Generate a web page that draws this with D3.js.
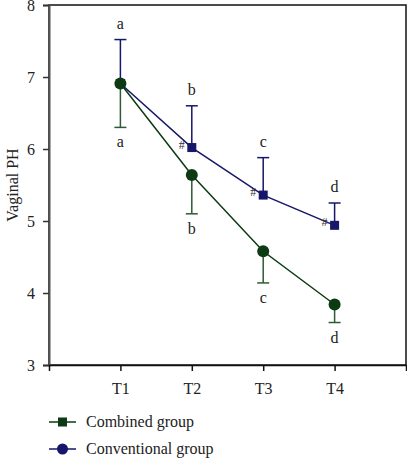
<!DOCTYPE html>
<html>
<head>
<meta charset="utf-8">
<script src="https://cdn.jsdelivr.net/npm/d3@7"></script>
<style>
  body { margin: 0; background: #fff; }
  svg { display: block; font-family: "Liberation Serif", "DejaVu Serif", serif; }
</style>
</head>
<body>
<div id="graph"></div>
<script>
const times = ["T1", "T2", "T3", "T4"]
const yTicks = [3, 4, 5, 6, 7, 8]

// Squares (navy), error bars upward
const squareMean = [6.91, 6.02, 5.36, 4.94]
const squareErr = [0.61, 0.58, 0.52, 0.31]
const squareLetters = ["a", "b", "c", "d"]
const squareMarks = ["", "#", "#", "#"]

// Circles (green), error bars downward
const circleMean = [6.91, 5.64, 4.58, 3.84]
const circleErr = [0.61, 0.54, 0.44, 0.25]
const circleLetters = ["a", "b", "c", "d"]

const legendLabels = ["Combined group", "Conventional group"]

const width = 407
const height = 458
const navy = "#16166a"
const green = "#0c3a12"
const greenBar = "#2f5a34"

const svg = d3.select("#graph").append("svg")
    .attr("width", width)
    .attr("height", height)

const x = d3.scaleLinear().domain([0, 5]).range([49, 406])
const y = d3.scaleLinear().domain([3, 8]).range([365, 5])

// Frame
svg.append("rect")
    .attr("x", x(0)).attr("y", y(8))
    .attr("width", x(5) - x(0)).attr("height", y(3) - y(8))
    .attr("fill", "none").attr("stroke", "#111").attr("stroke-width", 1.5)

// Y axis
const yAxis = svg.append("g")
    .attr("transform", `translate(${x(0)},0)`)
    .call(d3.axisLeft(y).tickValues(yTicks).tickSize(6).tickPadding(8).tickFormat(d3.format("d")))
yAxis.select(".domain").attr("stroke", "#555").attr("stroke-width", 2)
yAxis.selectAll(".tick line").attr("stroke", "#333").attr("stroke-width", 1.5)
yAxis.selectAll("text").attr("font-size", 16).attr("font-family", "Liberation Serif").attr("fill", "#222")

// X axis
const xAxis = svg.append("g")
    .attr("transform", `translate(0,${y(3)})`)
    .call(d3.axisBottom(x).tickValues([1, 2, 3, 4]).tickSize(6).tickPadding(12)
        .tickFormat(d => times[d - 1]))
xAxis.select(".domain").attr("stroke", "#111").attr("stroke-width", 1.5)
xAxis.selectAll(".tick line").attr("stroke", "#111").attr("stroke-width", 1.5)
xAxis.selectAll("text").attr("font-size", 16).attr("font-family", "Liberation Serif").attr("fill", "#222")

// Y label
svg.append("text")
    .attr("transform", `translate(18,${y(5.5)}) rotate(-90)`)
    .attr("text-anchor", "middle")
    .attr("font-size", 16)
    .attr("fill", "#222")
    .text("Vaginal PH")

const idx = [0, 1, 2, 3]
const line = d3.line().x(i => x(i + 1))

// Navy series
svg.append("path")
    .attr("d", line.y(i => y(squareMean[i]))(idx))
    .attr("fill", "none").attr("stroke", navy).attr("stroke-width", 1.5)

const sq = svg.append("g")
sq.selectAll("line.bar").data(idx).join("line")
    .attr("x1", i => x(i + 1)).attr("x2", i => x(i + 1))
    .attr("y1", i => y(squareMean[i])).attr("y2", i => y(squareMean[i] + squareErr[i]))
    .attr("stroke", navy).attr("stroke-width", 1.5)
sq.selectAll("line.cap").data(idx).join("line")
    .attr("x1", i => x(i + 1) - 6).attr("x2", i => x(i + 1) + 6)
    .attr("y1", i => y(squareMean[i] + squareErr[i])).attr("y2", i => y(squareMean[i] + squareErr[i]))
    .attr("stroke", navy).attr("stroke-width", 1.5)
sq.selectAll("rect").data(idx).join("rect")
    .attr("x", i => x(i + 1) - 4.5).attr("y", i => y(squareMean[i]) - 4.5)
    .attr("width", 9).attr("height", 9)
    .attr("fill", navy)
sq.selectAll("text.letter").data(idx).join("text")
    .attr("x", i => x(i + 1))
    .attr("y", i => y(squareMean[i] + squareErr[i]) - 11)
    .attr("text-anchor", "middle")
    .attr("font-size", 16).attr("fill", "#222")
    .text(i => squareLetters[i])
sq.selectAll("text.mark").data(idx).join("text")
    .attr("x", i => x(i + 1) - 7)
    .attr("y", i => y(squareMean[i]) + 1)
    .attr("text-anchor", "end")
    .attr("font-size", 12).attr("fill", "#333")
    .text(i => squareMarks[i])

// Green series
svg.append("path")
    .attr("d", line.y(i => y(circleMean[i]))(idx))
    .attr("fill", "none").attr("stroke", green).attr("stroke-width", 1.5)

const ci = svg.append("g")
ci.selectAll("line.bar").data(idx).join("line")
    .attr("x1", i => x(i + 1)).attr("x2", i => x(i + 1))
    .attr("y1", i => y(circleMean[i])).attr("y2", i => y(circleMean[i] - circleErr[i]))
    .attr("stroke", greenBar).attr("stroke-width", 1.5)
ci.selectAll("line.cap").data(idx).join("line")
    .attr("x1", i => x(i + 1) - 6).attr("x2", i => x(i + 1) + 6)
    .attr("y1", i => y(circleMean[i] - circleErr[i])).attr("y2", i => y(circleMean[i] - circleErr[i]))
    .attr("stroke", greenBar).attr("stroke-width", 1.5)
ci.selectAll("circle").data(idx).join("circle")
    .attr("cx", i => x(i + 1)).attr("cy", i => y(circleMean[i]))
    .attr("r", 6)
    .attr("fill", green)
ci.selectAll("text").data(idx).join("text")
    .attr("x", i => x(i + 1))
    .attr("y", i => y(circleMean[i] - circleErr[i]) + 20)
    .attr("text-anchor", "middle")
    .attr("font-size", 16).attr("fill", "#222")
    .text(i => circleLetters[i])

// Legend
const legend = svg.append("g")
const ly = [422, 449]
legend.selectAll("line").data(ly).join("line")
    .attr("x1", 49).attr("x2", 76)
    .attr("y1", d => d).attr("y2", d => d)
    .attr("stroke", (d, i) => i === 0 ? green : navy).attr("stroke-width", 1.5)
legend.append("rect")
    .attr("x", 62.5 - 4.5).attr("y", ly[0] - 4.5)
    .attr("width", 9).attr("height", 9).attr("fill", green)
legend.append("circle")
    .attr("cx", 62.5).attr("cy", ly[1]).attr("r", 5.5).attr("fill", navy)
legend.selectAll("text").data(legendLabels).join("text")
    .attr("x", 86)
    .attr("y", (d, i) => ly[i] + 5)
    .attr("font-size", 16).attr("fill", "#222")
    .text(d => d)
</script>
</body>
</html>
